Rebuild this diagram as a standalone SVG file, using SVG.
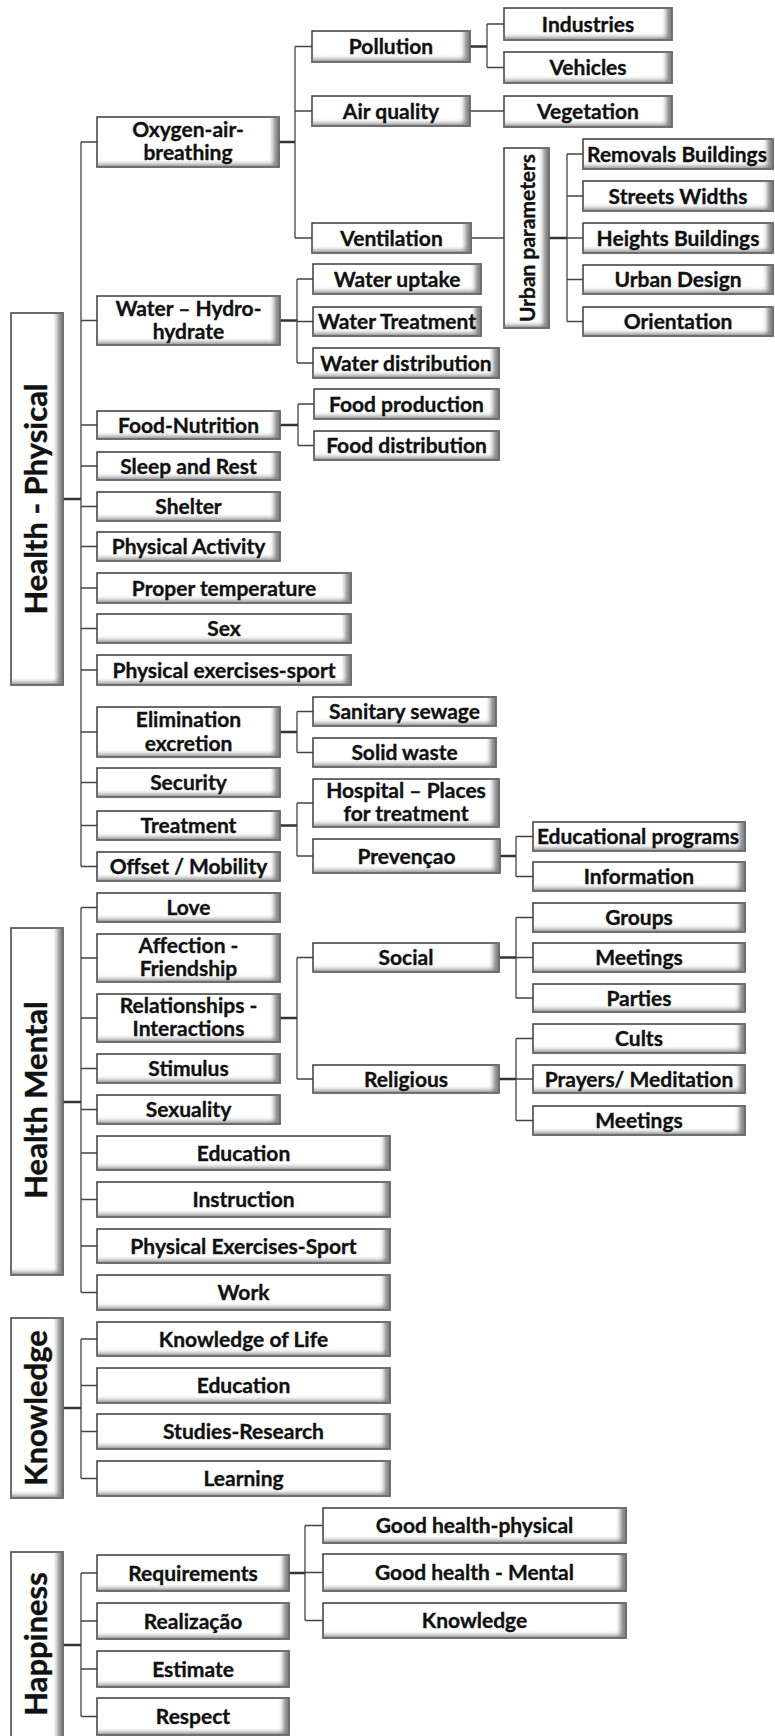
<svg xmlns="http://www.w3.org/2000/svg" width="775" height="1736" viewBox="0 0 775 1736">
<defs>
<filter id="bev" x="-5%" y="-15%" width="110%" height="130%">
<feOffset in="SourceAlpha" dx="-7" dy="-4" result="off"/>
<feGaussianBlur in="off" stdDeviation="2.2" result="blur"/>
<feComposite in="SourceAlpha" in2="blur" operator="out" result="inner"/>
<feFlood flood-color="#6e6e6e" flood-opacity="0.9"/>
<feComposite in2="inner" operator="in" result="shadow"/>
<feMerge><feMergeNode in="SourceGraphic"/><feMergeNode in="shadow"/></feMerge>
</filter>
</defs>
<style>
.b{fill:#fff;stroke:#3c3c3c;stroke-width:1.5;filter:url(#bev)}
.t{font-family:Lato,"Open Sans",sans-serif;font-weight:700;font-size:21px;text-anchor:middle;fill:#111;stroke:#111;stroke-width:0.35}
.rt{font-family:Lato,"Open Sans",sans-serif;font-weight:700;font-size:31px;text-anchor:middle;fill:#111;stroke:#111;stroke-width:0.4}
.c{fill:none;stroke:#444;stroke-width:1.3}
.s{fill:none;stroke:#333;stroke-width:2.3}
</style>
<rect width="775" height="1736" fill="#fff"/>

<g id="connectors">
<path class="s" d="M63,499H81M278,142H295M470,46.5H487M549,238H567M280,320.5H297M280,425H298M280,732H297M280,825.5H297M500,856H516M63,1102H81M280,1018H297M499,957.5H516M499,1079H516M63,1408H81M63,1645H81M289,1573H305"/>
<path class="c" d="M81,142V866.5M81,142H97M81,320.5H97M81,425H97M81,466H97M81,506.5H97M81,546.5H97M81,588H97M81,628.5H97M81,670H97M81,732H97M81,782.5H97M81,825.5H97M81,866.5H97"/>
<path class="c" d="M295,46.5V238M295,46.5H312M295,111H312M295,238H312M487,24V67.5M487,24H504M487,67.5H504M470,111H504M471,238H504M567,154V321.5M567,154H583M567,196H583M567,238H583M567,279.5H583M567,321.5H583"/>
<path class="c" d="M297,279V363M297,279H313M297,321.5H313M297,363H313M298,404V445.5M298,404H314M298,445.5H314M297,711.5V752.5M297,711.5H313M297,752.5H313M297,803V856M297,803H313M297,856H313M516,836.5V876.5M516,836.5H533M516,876.5H533"/>
<path class="c" d="M81,907.5V1292.5M81,907.5H97M81,958H97M81,1018H97M81,1068.5H97M81,1109.5H97M81,1153H97M81,1199.5H97M81,1246H97M81,1292.5H97M297,957.5V1079M297,957.5H313M297,1079H313M516,917.5V998M516,917.5H533M516,957.5H533M516,998H533M516,1038.5V1120.5M516,1038.5H533M516,1079H533M516,1120.5H533"/>
<path class="c" d="M81,1339V1478.5M81,1339H97M81,1385.5H97M81,1431.5H97M81,1478.5H97M81,1573V1716.5M81,1573H97M81,1621H97M81,1669H97M81,1716.5H97M305,1525.5V1620.5M305,1525.5H323M305,1572.5H323M305,1620.5H323"/>
</g>

<g id="health-physical"><rect class="b" x="11" y="313" width="52" height="372"/><text class="rt" transform="translate(37,499) rotate(-90)" y="10">Health - Physical</text></g>
<g id="oxygen"><rect class="b" x="97" y="117" width="182" height="50"/><text class="t" x="188" y="137">Oxygen-air-<tspan x="188" dy="23">breathing</tspan></text></g>
<g id="pollution"><rect class="b" x="312" y="31" width="158" height="31"/><text class="t" x="391" y="54">Pollution</text></g>
<g id="air-quality"><rect class="b" x="312" y="96" width="158" height="30"/><text class="t" x="391" y="118.5">Air quality</text></g>
<g id="ventilation"><rect class="b" x="312" y="223" width="159" height="30"/><text class="t" x="391.5" y="245.5">Ventilation</text></g>
<g id="industries"><rect class="b" x="504" y="8" width="168" height="32"/><text class="t" x="588" y="31.5">Industries</text></g>
<g id="vehicles"><rect class="b" x="504" y="52" width="168" height="31"/><text class="t" x="588" y="75">Vehicles</text></g>
<g id="vegetation"><rect class="b" x="504" y="96" width="168" height="31"/><text class="t" x="588" y="119">Vegetation</text></g>
<g id="urban-parameters"><rect class="b" x="504" y="148" width="45" height="180"/><text class="t" transform="translate(526.5,238) rotate(-90)" y="8.5">Urban parameters</text></g>
<g id="removals-buildings"><rect class="b" x="583" y="139" width="190" height="30"/><text class="t" x="677" y="161.5">Removals Buildings</text></g>
<g id="streets-widths"><rect class="b" x="583" y="181" width="190" height="30"/><text class="t" x="678" y="203.5">Streets Widths</text></g>
<g id="heights-buildings"><rect class="b" x="583" y="223" width="190" height="30"/><text class="t" x="678" y="245.5">Heights Buildings</text></g>
<g id="urban-design"><rect class="b" x="583" y="265" width="190" height="29"/><text class="t" x="678" y="287">Urban Design</text></g>
<g id="orientation"><rect class="b" x="583" y="307" width="190" height="29"/><text class="t" x="678" y="329">Orientation</text></g>

<g id="water"><rect class="b" x="97" y="296" width="183" height="49"/><text class="t" x="188.5" y="315.5">Water – Hydro-<tspan x="188.5" dy="23">hydrate</tspan></text></g>
<g id="water-uptake"><rect class="b" x="313" y="264" width="168" height="30"/><text class="t" x="397" y="286.5">Water uptake</text></g>
<g id="water-treatment"><rect class="b" x="313" y="307" width="168" height="29"/><text class="t" x="397" y="329">Water Treatment</text></g>
<g id="water-distribution"><rect class="b" x="313" y="348" width="186" height="30"/><text class="t" x="406" y="370.5">Water distribution</text></g>

<g id="food-nutrition"><rect class="b" x="97" y="411" width="183" height="28"/><text class="t" x="188.5" y="432.5">Food-Nutrition</text></g>
<g id="food-production"><rect class="b" x="314" y="389" width="185" height="30"/><text class="t" x="406.5" y="411.5">Food production</text></g>
<g id="food-distribution"><rect class="b" x="314" y="431" width="185" height="29"/><text class="t" x="406.5" y="453">Food distribution</text></g>
<g id="sleep"><rect class="b" x="97" y="452" width="183" height="28"/><text class="t" x="188.5" y="473.5">Sleep and Rest</text></g>
<g id="shelter"><rect class="b" x="97" y="492" width="183" height="29"/><text class="t" x="188.5" y="514">Shelter</text></g>
<g id="physical-activity"><rect class="b" x="97" y="532" width="183" height="29"/><text class="t" x="188.5" y="554">Physical Activity</text></g>
<g id="proper-temperature"><rect class="b" x="97" y="573" width="254" height="30"/><text class="t" x="224" y="595.5">Proper temperature</text></g>
<g id="sex"><rect class="b" x="97" y="614" width="254" height="29"/><text class="t" x="224" y="636">Sex</text></g>
<g id="physical-exercises"><rect class="b" x="97" y="655" width="254" height="30"/><text class="t" x="224" y="677.5">Physical exercises-sport</text></g>
<g id="elimination"><rect class="b" x="97" y="707" width="183" height="50"/><text class="t" x="188.5" y="727">Elimination<tspan x="188.5" dy="23.5">excretion</tspan></text></g>
<g id="sanitary-sewage"><rect class="b" x="313" y="697" width="183" height="29"/><text class="t" x="404.5" y="719">Sanitary sewage</text></g>
<g id="solid-waste"><rect class="b" x="313" y="738" width="183" height="29"/><text class="t" x="404.5" y="760">Solid waste</text></g>
<g id="security"><rect class="b" x="97" y="768" width="183" height="29"/><text class="t" x="188.5" y="790">Security</text></g>
<g id="treatment"><rect class="b" x="97" y="811" width="183" height="29"/><text class="t" x="188.5" y="833">Treatment</text></g>
<g id="hospital"><rect class="b" x="313" y="779" width="186" height="48"/><text class="t" x="406" y="797.5">Hospital – Places<tspan x="406" dy="23">for treatment</tspan></text></g>
<g id="prevencao"><rect class="b" x="313" y="839" width="187" height="34"/><text class="t" x="406.5" y="863.5">Prevençao</text></g>
<g id="educational-programs"><rect class="b" x="533" y="822" width="212" height="29"/><text class="t" x="638" y="844">Educational programs</text></g>
<g id="information"><rect class="b" x="533" y="862" width="212" height="29"/><text class="t" x="639" y="884">Information</text></g>
<g id="offset-mobility"><rect class="b" x="97" y="852" width="183" height="29"/><text class="t" x="188.5" y="874">Offset / Mobility</text></g>

<g id="health-mental"><rect class="b" x="11" y="928" width="52" height="347"/><text class="rt" transform="translate(37,1100) rotate(-90)" y="10">Health Mental</text></g>
<g id="love"><rect class="b" x="97" y="893" width="183" height="29"/><text class="t" x="188.5" y="915">Love</text></g>
<g id="affection"><rect class="b" x="97" y="934" width="183" height="48"/><text class="t" x="188.5" y="952.5">Affection -<tspan x="188.5" dy="23">Friendship</tspan></text></g>
<g id="relationships"><rect class="b" x="97" y="994" width="183" height="48"/><text class="t" x="188.5" y="1012.5">Relationships -<tspan x="188.5" dy="23">Interactions</tspan></text></g>
<g id="stimulus"><rect class="b" x="97" y="1054" width="183" height="29"/><text class="t" x="188.5" y="1076">Stimulus</text></g>
<g id="sexuality"><rect class="b" x="97" y="1095" width="183" height="29"/><text class="t" x="188.5" y="1117">Sexuality</text></g>
<g id="education-m"><rect class="b" x="97" y="1136" width="293" height="34"/><text class="t" x="243.5" y="1160.5">Education</text></g>
<g id="instruction"><rect class="b" x="97" y="1182" width="293" height="35"/><text class="t" x="243.5" y="1207">Instruction</text></g>
<g id="physical-exercises-m"><rect class="b" x="97" y="1229" width="293" height="34"/><text class="t" x="243.5" y="1253.5">Physical Exercises-Sport</text></g>
<g id="work"><rect class="b" x="97" y="1275" width="293" height="35"/><text class="t" x="243.5" y="1300">Work</text></g>
<g id="social"><rect class="b" x="313" y="943" width="186" height="29"/><text class="t" x="406" y="965">Social</text></g>
<g id="religious"><rect class="b" x="313" y="1065" width="186" height="28"/><text class="t" x="406" y="1086.5">Religious</text></g>
<g id="groups"><rect class="b" x="533" y="903" width="212" height="29"/><text class="t" x="639" y="925">Groups</text></g>
<g id="meetings-s"><rect class="b" x="533" y="943" width="212" height="29"/><text class="t" x="639" y="965">Meetings</text></g>
<g id="parties"><rect class="b" x="533" y="984" width="212" height="28"/><text class="t" x="639" y="1005.5">Parties</text></g>
<g id="cults"><rect class="b" x="533" y="1024" width="212" height="29"/><text class="t" x="639" y="1046">Cults</text></g>
<g id="prayers"><rect class="b" x="533" y="1065" width="212" height="28"/><text class="t" x="639" y="1086.5">Prayers/ Meditation</text></g>
<g id="meetings-r"><rect class="b" x="533" y="1106" width="212" height="29"/><text class="t" x="639" y="1128">Meetings</text></g>

<g id="knowledge"><rect class="b" x="11" y="1318" width="52" height="180"/><text class="rt" transform="translate(37,1408) rotate(-90)" y="10">Knowledge</text></g>
<g id="knowledge-of-life"><rect class="b" x="97" y="1322" width="293" height="34"/><text class="t" x="243.5" y="1346.5">Knowledge of Life</text></g>
<g id="education-k"><rect class="b" x="97" y="1368" width="293" height="35"/><text class="t" x="243.5" y="1393">Education</text></g>
<g id="studies-research"><rect class="b" x="97" y="1414" width="293" height="35"/><text class="t" x="243.5" y="1439">Studies-Research</text></g>
<g id="learning"><rect class="b" x="97" y="1461" width="293" height="35"/><text class="t" x="243.5" y="1486">Learning</text></g>

<g id="happiness"><rect class="b" x="11" y="1552" width="52" height="195"/><text class="rt" transform="translate(37,1644) rotate(-90)" y="10">Happiness</text></g>
<g id="requirements"><rect class="b" x="97" y="1555" width="192" height="36"/><text class="t" x="193" y="1580.5">Requirements</text></g>
<g id="realizacao"><rect class="b" x="97" y="1603" width="192" height="36"/><text class="t" x="193" y="1628.5">Realização</text></g>
<g id="estimate"><rect class="b" x="97" y="1651" width="192" height="36"/><text class="t" x="193" y="1676.5">Estimate</text></g>
<g id="respect"><rect class="b" x="97" y="1698" width="192" height="37"/><text class="t" x="193" y="1724">Respect</text></g>
<g id="good-health-physical"><rect class="b" x="323" y="1508" width="303" height="35"/><text class="t" x="474.5" y="1533">Good health-physical</text></g>
<g id="good-health-mental"><rect class="b" x="323" y="1554" width="303" height="37"/><text class="t" x="474.5" y="1580">Good health - Mental</text></g>
<g id="knowledge-h"><rect class="b" x="323" y="1603" width="303" height="35"/><text class="t" x="474.5" y="1628">Knowledge</text></g>
</svg>
